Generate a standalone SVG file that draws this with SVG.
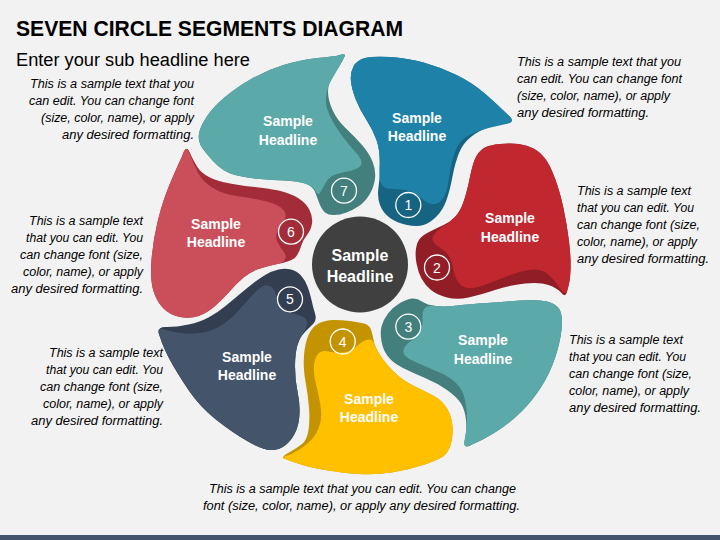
<svg xmlns="http://www.w3.org/2000/svg" width="720" height="540" viewBox="0 0 720 540">
<style>
.title{font-family:"Liberation Sans",Arial,sans-serif;font-weight:bold;font-size:22px;fill:#000}
.sub{font-family:"Liberation Sans",Arial,sans-serif;font-size:18px;fill:#000}
.note{font-family:"Liberation Sans",Arial,sans-serif;font-style:italic;font-size:12.5px;fill:#000}
.hl{font-family:"Liberation Sans",Arial,sans-serif;font-weight:bold;font-size:14px;fill:#fff;text-anchor:middle}
.chl{font-family:"Liberation Sans",Arial,sans-serif;font-weight:bold;font-size:16px;fill:#fff;text-anchor:middle}
.num{font-family:"Liberation Sans",Arial,sans-serif;font-size:14px;fill:#fff;text-anchor:middle}
.ring{fill:none;stroke:#fff;stroke-width:1.3}
</style>
<rect x="0" y="0" width="720" height="540" fill="#f2f2f2"/>
<rect x="0" y="535" width="720" height="5" fill="#44546a"/>
<text class="title" x="16" y="36" textLength="387" lengthAdjust="spacingAndGlyphs">SEVEN CIRCLE SEGMENTS DIAGRAM</text>
<text class="sub" x="16" y="66" textLength="234" lengthAdjust="spacingAndGlyphs">Enter your sub headline here</text>

<g id="segment-1">
<path fill="#176382" d="M 507.5,114.5 Q 500,107 486.5,95 Q 473,83 456.5,75 Q 440,67 423.5,62.5 Q 407,58 390,57 Q 373,56 365,58 Q 357,60 353.5,66.5 Q 350,73 351,81.5 Q 352,90 356,100 Q 360,110 366.5,120 Q 373,130 376.5,140 Q 380,150 380,163.5 Q 380,177 378.5,187 Q 377,197 380,205 Q 383,213 390,218 Q 397,223 407,225 Q 417,227 423.5,225 Q 430,223 436.5,216.5 Q 443,210 446.5,200 Q 450,190 452.5,176.5 Q 455,163 459,153 Q 463,143 471.5,136.5 Q 480,130 488.5,127.5 Q 497,125 506,123.5 Q 517,122 507.5,114.5 Z"/>
<path fill="#1e82a8" d="M 507.5,114.5 Q 500,107 486.5,95 Q 473,83 456.5,75 Q 440,67 423.5,62.5 Q 407,58 390,57 Q 373,56 365,58 Q 357,60 353.5,66.5 Q 350,73 351,81.5 Q 352,90 356,100 Q 360,110 366.5,120 Q 373,130 376.5,140 Q 380,150 379.5,164 Q 379,178 381,183 Q 383,188 388,188.5 Q 393,189 401.5,189.5 Q 410,190 415,193.5 Q 420,197 425,201 Q 430,205 435,204 Q 440,203 443.5,197.5 Q 447,192 448.5,181 Q 450,170 452.5,160 Q 455,150 459,144 Q 463,138 471.5,134 Q 480,130 488.5,128 Q 497,126 506,124 Q 517,122 507.5,114.5 Z"/>
<circle class="ring" cx="408.3" cy="205" r="12.5"/>
<text class="num" x="408.3" y="210">1</text>
<text class="hl" x="417" y="123">Sample</text>
<text class="hl" x="417" y="141">Headline</text>
</g>

<g id="segment-2">
<path fill="#911e27" d="M 567.5,289.5 Q 570,282 570.5,270 Q 571,258 569,241.5 Q 567,225 563.5,208.5 Q 560,192 555,178.5 Q 550,165 545,158.5 Q 540,152 533.5,148.5 Q 527,145 518.5,144 Q 510,143 500,144 Q 490,145 485,147.5 Q 480,150 476.5,156 Q 473,162 470,177 Q 467,192 463.5,202 Q 460,212 455,217 Q 450,222 443.5,225 Q 437,228 430,231.5 Q 423,235 420,238.5 Q 417,242 416,248.5 Q 415,255 416.5,263.5 Q 418,272 421.5,278.5 Q 425,285 431,290 Q 437,295 447,297.5 Q 457,300 468.5,297.5 Q 480,295 495,290 Q 510,285 525,283.5 Q 540,282 548.5,285 Q 557,288 561,292.5 Q 566,299 567.5,289.5 Z"/>
<path fill="#c0272f" d="M 567.5,289.5 Q 570,282 570.5,270 Q 571,258 569,241.5 Q 567,225 563.5,208.5 Q 560,192 555,178.5 Q 550,165 545,158.5 Q 540,152 533.5,148.5 Q 527,145 518.5,144 Q 510,143 500,144 Q 490,145 485,147.5 Q 480,150 476.5,156 Q 473,162 470,177 Q 467,192 463.5,202 Q 460,212 454.5,217.5 Q 449,223 444.5,225.5 Q 440,228 436.5,231.5 Q 433,235 432.5,238 Q 432,241 434.5,243.5 Q 437,246 442,249 Q 447,252 449.5,257 Q 452,262 453.5,270 Q 455,278 458.5,282.5 Q 462,287 467.5,288 Q 473,289 483,285.5 Q 493,282 505,277 Q 517,272 528.5,270 Q 540,268 546.5,273 Q 553,278 559,287 Q 566,298 567.5,289.5 Z"/>
<circle class="ring" cx="437" cy="267.5" r="12.5"/>
<text class="num" x="437" y="272.5">2</text>
<text class="hl" x="510" y="223">Sample</text>
<text class="hl" x="510" y="242">Headline</text>
</g>

<g id="segment-3">
<path fill="#437f7d" d="M 465,439 Q 467,430 466,420 Q 465,410 461,403.5 Q 457,397 447,390 Q 437,383 425,378 Q 413,373 403,368 Q 393,363 388,356.5 Q 383,350 381.5,341.5 Q 380,333 381.5,326.5 Q 383,320 388,313.5 Q 393,307 400,303 Q 407,299 412,298.5 Q 417,298 422,301.5 Q 427,305 436,306 Q 445,307 457.5,305.5 Q 470,304 486.5,303 Q 503,302 520,300.5 Q 537,299 547,301.5 Q 557,304 560,310.5 Q 563,317 561.5,330 Q 560,343 555,358 Q 550,373 541.5,386.5 Q 533,400 521.5,411.5 Q 510,423 496.5,431.5 Q 483,440 473,444 Q 462,451 465,439 Z"/>
<path fill="#5ba9a8" d="M 465,438 Q 467,428 467,419 Q 467,410 465,400 Q 463,390 456.5,383.5 Q 450,377 438.5,372 Q 427,367 417.5,363 Q 408,359 405,355.5 Q 402,352 404.5,347.5 Q 407,343 412.5,340 Q 418,337 420.5,332 Q 423,327 422.5,319.5 Q 422,312 424.5,308.5 Q 427,305 436,306 Q 445,307 457.5,305.5 Q 470,304 486.5,303 Q 503,302 520,300.5 Q 537,299 547,301.5 Q 557,304 560,310.5 Q 563,317 561.5,330 Q 560,343 555,358 Q 550,373 541.5,386.5 Q 533,400 521.5,411.5 Q 510,423 496.5,431.5 Q 483,440 473,444 Q 462,451 465,438 Z"/>
<circle class="ring" cx="408.3" cy="326.7" r="12.5"/>
<text class="num" x="408.3" y="331.7">3</text>
<text class="hl" x="483" y="345">Sample</text>
<text class="hl" x="483" y="364">Headline</text>
</g>

<g id="segment-4">
<path fill="#c49300" d="M 289,452.5 Q 297,448 302,444 Q 307,440 308.5,430 Q 310,420 309,407.5 Q 308,395 305.5,381.5 Q 303,368 304,355.5 Q 305,343 308.5,335 Q 312,327 318.5,323.5 Q 325,320 333.5,320 Q 342,320 350,321 Q 358,322 364,323.5 Q 370,325 371.5,331 Q 373,337 374,342 Q 375,347 380,355 Q 385,363 393.5,371.5 Q 402,380 412,385 Q 422,390 432,395 Q 442,400 447,408.5 Q 452,417 452.5,427 Q 453,437 450.5,445 Q 448,453 443,456.5 Q 438,460 423,465 Q 408,470 391.5,472.5 Q 375,475 358.5,474 Q 342,473 325,470 Q 308,467 298,463.5 Q 288,460 285.5,459 Q 279,458 289,452.5 Z"/>
<path fill="#ffc000" d="M 291.5,454 Q 300,450 307.5,443.5 Q 315,437 318.5,428.5 Q 322,420 321,410 Q 320,400 316.5,386.5 Q 313,373 314,365 Q 315,357 318.5,353.5 Q 322,350 328.5,351.5 Q 335,353 342.5,352.5 Q 350,352 354,348.5 Q 358,345 362,342 Q 366,339 369.5,339.5 Q 373,340 374,343.5 Q 375,347 380,355 Q 385,363 393.5,371.5 Q 402,380 412,385 Q 422,390 432,395 Q 442,400 447,408.5 Q 452,417 452.5,427 Q 453,437 450.5,445 Q 448,453 443,456.5 Q 438,460 423,465 Q 408,470 391.5,472.5 Q 375,475 358.5,474 Q 342,473 325,470 Q 308,467 298,463.5 Q 288,460 285.5,459 Q 279,458 291.5,454 Z"/>
<circle class="ring" cx="342.7" cy="341.5" r="12.5"/>
<text class="num" x="342.7" y="346.5">4</text>
<text class="hl" x="369" y="404">Sample</text>
<text class="hl" x="369" y="422">Headline</text>
</g>

<g id="segment-5">
<path fill="#333f50" d="M 167,327 Q 177,327 188.5,324.5 Q 200,322 208.5,317.5 Q 217,313 225.5,306 Q 234,299 240.5,293.5 Q 247,288 253.5,283 Q 260,278 266,274.5 Q 272,271 278.5,269.5 Q 285,268 291,269.5 Q 297,271 301,275.5 Q 305,280 307.5,286.5 Q 310,293 311.5,300 Q 313,307 315,313.5 Q 317,320 313.5,323.5 Q 310,327 305,332 Q 300,337 297.5,345 Q 295,353 295,366.5 Q 295,380 297.5,391.5 Q 300,403 299.5,414 Q 299,425 295,433 Q 291,441 285,445.5 Q 279,450 271,450 Q 263,450 248,441.5 Q 233,433 216.5,420 Q 200,407 188.5,390 Q 177,373 170,360 Q 163,347 160,337 Q 155,326 167,327 Z"/>
<path fill="#44546a" d="M 166,330 Q 175,333 185,333.5 Q 195,334 203.5,332.5 Q 212,331 221,325.5 Q 230,320 238.5,310.5 Q 247,301 253,294.5 Q 259,288 263.5,286 Q 268,284 271.5,287 Q 275,290 276.5,296 Q 278,302 282.5,307 Q 287,312 293.5,313.5 Q 300,315 304,317.5 Q 308,320 307,325 Q 306,330 303,333.5 Q 300,337 297.5,345 Q 295,353 295,366.5 Q 295,380 297.5,391.5 Q 300,403 299.5,414 Q 299,425 295,433 Q 291,441 285,445.5 Q 279,450 271,450 Q 263,450 248,441.5 Q 233,433 216.5,420 Q 200,407 188.5,390 Q 177,373 170,360 Q 163,347 160,337 Q 155,326 166,330 Z"/>
<circle class="ring" cx="290" cy="299.3" r="12.5"/>
<text class="num" x="290" y="304.3">5</text>
<text class="hl" x="247" y="362">Sample</text>
<text class="hl" x="247" y="380">Headline</text>
</g>

<g id="segment-6">
<path fill="#a32c39" d="M 190,153 Q 193,160 197,166.5 Q 201,173 209,177 Q 217,181 230,183.5 Q 243,186 255,187 Q 267,188 278.5,190.5 Q 290,193 298,198 Q 306,203 309.5,210 Q 313,217 312,223.5 Q 311,230 307,235 Q 303,240 301.5,245 Q 300,250 297.5,254.5 Q 295,259 289,261 Q 283,263 275,264.5 Q 267,266 258.5,269 Q 250,272 243.5,277.5 Q 237,283 230,291 Q 223,299 215,306 Q 207,313 198.5,316 Q 190,319 180,317 Q 170,315 163.5,308.5 Q 157,302 153.5,291 Q 150,280 151.5,260 Q 153,240 158,220 Q 163,200 170,183.5 Q 177,167 182,156.5 Q 186,143 190,153 Z"/>
<path fill="#cb4f5a" d="M 190,154.5 Q 193,163 198,172.5 Q 203,182 213,188 Q 223,194 236.5,196 Q 250,198 260,200 Q 270,202 276.5,205 Q 283,208 285,212.5 Q 287,217 283,222 Q 279,227 277,232 Q 275,237 277.5,242 Q 280,247 283.5,251.5 Q 287,256 285,259.5 Q 283,263 275,264.5 Q 267,266 258.5,269 Q 250,272 243.5,277.5 Q 237,283 230,291 Q 223,299 215,306 Q 207,313 198.5,316 Q 190,319 180,317 Q 170,315 163.5,308.5 Q 157,302 153.5,291 Q 150,280 151.5,260 Q 153,240 158,220 Q 163,200 170,183.5 Q 177,167 182,156.5 Q 186,143 190,154.5 Z"/>
<circle class="ring" cx="291" cy="231.7" r="12.5"/>
<text class="num" x="291" y="236.7">6</text>
<text class="hl" x="216" y="229">Sample</text>
<text class="hl" x="216" y="247">Headline</text>
</g>

<g id="segment-7">
<path fill="#437f7d" d="M 336,56 Q 327,57 313.5,58.5 Q 300,60 283.5,65 Q 267,70 252,78.5 Q 237,87 225,97 Q 213,107 206.5,117 Q 200,127 199,133.5 Q 198,140 200.5,145 Q 203,150 213,161 Q 223,172 235,175 Q 247,178 260,179 Q 273,180 285,180.5 Q 297,181 305,183.5 Q 313,186 315.5,193 Q 318,200 320,205 Q 322,210 325,212.5 Q 328,215 334,215 Q 340,215 346.5,212.5 Q 353,210 359,206 Q 365,202 369.5,194.5 Q 374,187 375,178.5 Q 376,170 372.5,161.5 Q 369,153 362,145 Q 355,137 346,128.5 Q 337,120 332.5,110 Q 328,100 328,91.5 Q 328,83 332.5,76.5 Q 337,70 340,65 Q 343,60 344,57.5 Q 348,52 336,56 Z"/>
<path fill="#5ba9a8" d="M 336,56 Q 327,57 313.5,58.5 Q 300,60 283.5,65 Q 267,70 252,78.5 Q 237,87 225,97 Q 213,107 206.5,117 Q 200,127 199,133.5 Q 198,140 200.5,145 Q 203,150 213,161 Q 223,172 235,175 Q 247,178 260,179 Q 273,180 285,180.5 Q 297,181 305,183.5 Q 313,186 315.5,191 Q 318,196 320,193 Q 322,190 325,184 Q 328,178 333,175.5 Q 338,173 345,172 Q 352,171 357,168.5 Q 362,166 361.5,162 Q 361,158 355,151.5 Q 349,145 341.5,135 Q 334,125 329.5,115 Q 325,105 326,96.5 Q 327,88 331.5,80 Q 336,72 339.5,66 Q 343,60 344,57.5 Q 348,52 336,56 Z"/>
<circle class="ring" cx="344" cy="190.7" r="12.5"/>
<text class="num" x="344" y="195.7">7</text>
<text class="hl" x="288" y="126">Sample</text>
<text class="hl" x="288" y="145">Headline</text>
</g>

<g id="center">
<circle cx="360" cy="264.5" r="48" fill="#404040"/>
<text class="chl" x="360" y="261">Sample</text>
<text class="chl" x="360" y="282">Headline</text>
</g>

<g id="notes">
<text class="note" x="30" y="88" textLength="164" lengthAdjust="spacingAndGlyphs">This is a sample text that you</text>
<text class="note" x="29" y="105" textLength="165" lengthAdjust="spacingAndGlyphs">can edit. You can change font</text>
<text class="note" x="41" y="122" textLength="153" lengthAdjust="spacingAndGlyphs">(size, color, name), or apply</text>
<text class="note" x="62" y="139" textLength="132" lengthAdjust="spacingAndGlyphs">any desired formatting.</text>

<text class="note" x="517" y="66" textLength="164" lengthAdjust="spacingAndGlyphs">This is a sample text that you</text>
<text class="note" x="517" y="83" textLength="165" lengthAdjust="spacingAndGlyphs">can edit. You can change font</text>
<text class="note" x="517" y="100" textLength="153" lengthAdjust="spacingAndGlyphs">(size, color, name), or apply</text>
<text class="note" x="517" y="117" textLength="132" lengthAdjust="spacingAndGlyphs">any desired formatting.</text>

<text class="note" x="577" y="195" textLength="114" lengthAdjust="spacingAndGlyphs">This is a sample text</text>
<text class="note" x="577" y="212" textLength="117" lengthAdjust="spacingAndGlyphs">that you can edit. You</text>
<text class="note" x="577" y="229" textLength="123" lengthAdjust="spacingAndGlyphs">can change font (size,</text>
<text class="note" x="577" y="246" textLength="120" lengthAdjust="spacingAndGlyphs">color, name), or apply</text>
<text class="note" x="577" y="263" textLength="132" lengthAdjust="spacingAndGlyphs">any desired formatting.</text>

<text class="note" x="569" y="344" textLength="114" lengthAdjust="spacingAndGlyphs">This is a sample text</text>
<text class="note" x="569" y="361" textLength="117" lengthAdjust="spacingAndGlyphs">that you can edit. You</text>
<text class="note" x="569" y="378" textLength="123" lengthAdjust="spacingAndGlyphs">can change font (size,</text>
<text class="note" x="569" y="395" textLength="120" lengthAdjust="spacingAndGlyphs">color, name), or apply</text>
<text class="note" x="569" y="412" textLength="132" lengthAdjust="spacingAndGlyphs">any desired formatting.</text>

<text class="note" x="29" y="225" textLength="114" lengthAdjust="spacingAndGlyphs">This is a sample text</text>
<text class="note" x="26" y="242" textLength="117" lengthAdjust="spacingAndGlyphs">that you can edit. You</text>
<text class="note" x="20" y="259" textLength="123" lengthAdjust="spacingAndGlyphs">can change font (size,</text>
<text class="note" x="23" y="276" textLength="120" lengthAdjust="spacingAndGlyphs">color, name), or apply</text>
<text class="note" x="11" y="293" textLength="132" lengthAdjust="spacingAndGlyphs">any desired formatting.</text>

<text class="note" x="49" y="357" textLength="114" lengthAdjust="spacingAndGlyphs">This is a sample text</text>
<text class="note" x="46" y="374" textLength="117" lengthAdjust="spacingAndGlyphs">that you can edit. You</text>
<text class="note" x="40" y="391" textLength="123" lengthAdjust="spacingAndGlyphs">can change font (size,</text>
<text class="note" x="43" y="408" textLength="120" lengthAdjust="spacingAndGlyphs">color, name), or apply</text>
<text class="note" x="31" y="425" textLength="132" lengthAdjust="spacingAndGlyphs">any desired formatting.</text>

<text class="note" x="209" y="493" textLength="307" lengthAdjust="spacingAndGlyphs">This is a sample text that you can edit. You can change</text>
<text class="note" x="203" y="510" textLength="317" lengthAdjust="spacingAndGlyphs">font (size, color, name), or apply any desired formatting.</text>
</g>
</svg>
